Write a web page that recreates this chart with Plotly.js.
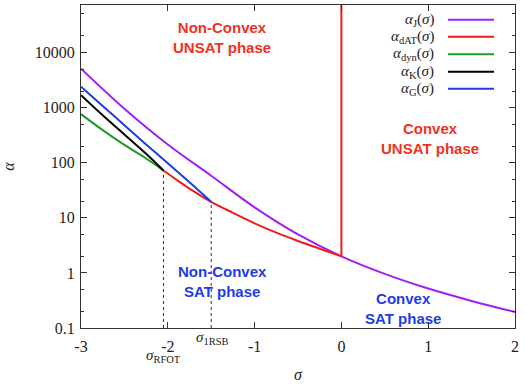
<!DOCTYPE html>
<html><head><meta charset="utf-8">
<script src="https://cdn.plot.ly/plotly-3.0.1.min.js"></script>
<style>html,body{margin:0;padding:0;background:#fff}#plot{width:526px;height:384px}</style>
</head><body><div id="plot"></div><script>
// alpha_J(sigma)
const sigmaJ = [-3, -2.5, -2, -1.5, -1, -0.5, 0, 0.5, 1, 1.5, 2];
const alphaJ = [5100, 955, 214, 58, 15.5, 5.0, 2.0, 0.96, 0.52, 0.31, 0.195];
// alpha_dAT(sigma)
const sigmaDAT = [-2.05, -1.9, -1.75, -1.5, -1.25, -1, -0.75, -0.5, -0.25, 0];
const alphaDAT = [72, 49, 33.9, 19.5, 12.3, 7.94, 5.37, 3.80, 2.75, 2.0];
// vertical dAT boundary at sigma = 0
const sigmaWall = [0, 0];
const alphaWall = [2.0, 100000];
// alpha_dyn(sigma)
const sigmaDyn = [-3, -2.75, -2.5, -2.25, -2.05];
const alphaDyn = [760, 390, 210, 119, 72];
// alpha_K(sigma)
const sigmaK = [-3, -2.75, -2.5, -2.25, -2.05];
const alphaK = [1680, 725, 324, 145, 72];
// alpha_G(sigma)
const sigmaG = [-3, -2.75, -2.5, -2.25, -2, -1.75, -1.5];
const alphaG = [2400, 1070, 480, 215, 98, 44, 19.6];
// special sigmas
const sigmaRFOT = -2.05, alphaRFOT = 72;
const sigma1RSB = -1.5, alpha1RSB = 19.6;
// axis ticks
const xTicks = [-3, -2, -1, 0, 1, 2];
const xTickText = ['-3', '-2', '-1', '0', '1', '2'];
const yTicks = [0.1, 1, 10, 100, 1000, 10000];
const yTickText = ['0.1', '1', '10', '100', '1000', '10000'];
const yMinor = [0.2, 0.5, 2, 5, 20, 50, 200, 500, 2000, 5000, 20000, 50000];

const cJ = '#a020f0', cDAT = '#ee1c1c', cDyn = '#1f9a25', cK = '#000000', cG = '#1e3ce6';
const serif = 'Liberation Serif, DejaVu Serif, serif';
const sans = 'Liberation Sans, Arial, sans-serif';

const legendNames = ['<i>α</i><sub>J</sub>(<i>σ</i>)', '<i>α</i><sub>dAT</sub>(<i>σ</i>)',
  '<i>α</i><sub>dyn</sub>(<i>σ</i>)', '<i>α</i><sub>K</sub>(<i>σ</i>)', '<i>α</i><sub>G</sub>(<i>σ</i>)'];
const legendColors = [cJ, cDAT, cDyn, cK, cG];

const lw = 2;
const traces = [
  {x: [sigmaRFOT, sigmaRFOT], y: [0.1, alphaRFOT], mode: 'lines', line: {color: '#333', width: 1, dash: 'dot'}},
  {x: [sigma1RSB, sigma1RSB], y: [0.1, alpha1RSB], mode: 'lines', line: {color: '#333', width: 1, dash: 'dot'}},
  {x: sigmaJ, y: alphaJ, mode: 'lines', line: {color: cJ, width: lw, shape: 'spline'}},
  {x: sigmaDAT, y: alphaDAT, mode: 'lines', line: {color: cDAT, width: lw, shape: 'spline'}},
  {x: sigmaWall, y: alphaWall, mode: 'lines', line: {color: cDAT, width: lw}},
  {x: sigmaDyn, y: alphaDyn, mode: 'lines', line: {color: cDyn, width: lw, shape: 'spline'}},
  {x: sigmaK, y: alphaK, mode: 'lines', line: {color: cK, width: lw, shape: 'spline'}},
  {x: sigmaG, y: alphaG, mode: 'lines', line: {color: cG, width: lw, shape: 'spline'}}
];

const plotH = 323.2, plotB = 328.5, plotL = 81, plotW = 434;
const py = p => (plotB - p) / plotH;
const px = p => (p - plotL) / plotW;

const annotations = [];
const shapes = [];
const rowsY = [20, 37, 54.5, 72, 89];
legendNames.forEach((n, i) => {
  annotations.push({xref: 'paper', yref: 'paper', x: px(436), y: py(rowsY[i]), xanchor: 'right', yanchor: 'middle',
    text: n, showarrow: false, font: {family: serif, size: 15, color: '#222'}});
  shapes.push({type: 'line', xref: 'paper', yref: 'paper', x0: px(448), x1: px(494), y0: py(rowsY[i]), y1: py(rowsY[i]),
    line: {color: legendColors[i], width: 2}});
});
const phase = (x, y, t, c) => annotations.push({x: x, y: Math.log10(y), xref: 'x', yref: 'y', text: t, showarrow: false,
  font: {family: sans, size: 15, color: c, weight: 'bold'}, xanchor: 'center', yanchor: 'middle'});
phase(-1.375, 19000, '<b>Non-Convex</b><br><b>UNSAT phase</b>', '#f0321e');
phase(1.02, 270, '<b>Convex</b><br><b>UNSAT phase</b>', '#f0321e');
phase(-1.375, 0.705, '<b>Non-Convex</b><br><b>SAT phase</b>', '#1e3ce6');
phase(0.71, 0.224, '<b>Convex</b><br><b>SAT phase</b>', '#1e3ce6');
annotations.push({x: sigmaRFOT, xref: 'x', yref: 'paper', y: py(357), text: '<i>σ</i><sub>RFOT</sub>', showarrow: false,
  font: {family: serif, size: 15, color: '#222'}, yanchor: 'middle'});
annotations.push({x: sigma1RSB + 0.02, xref: 'x', yref: 'paper', y: py(339), text: '<i>σ</i><sub>1RSB</sub>', showarrow: false,
  font: {family: serif, size: 15, color: '#222'}, yanchor: 'middle'});

const layout = {
  width: 526, height: 384, showlegend: false,
  paper_bgcolor: '#fff', plot_bgcolor: '#fff',
  margin: {l: 81, r: 11, t: 5, b: 56},
  xaxis: {range: [-3, 2], tickvals: xTicks, ticktext: xTickText, ticks: 'inside', ticklen: 6, tickcolor: '#333', mirror: 'ticks',
    showline: true, linecolor: '#333', linewidth: 1, showgrid: false, zeroline: false, ticklabelstandoff: 4,
    tickfont: {family: serif, size: 16, color: '#222'},
    title: {text: '<i>σ</i>', font: {family: serif, size: 16, color: '#222'}, standoff: 14}},
  yaxis: {type: 'log', range: [-1, 4.862], tickvals: yTicks, ticktext: yTickText, ticks: 'inside', ticklen: 6,
    tickcolor: '#333', mirror: 'ticks', showline: true, linecolor: '#333', linewidth: 1, showgrid: false, zeroline: false,
    minor: {tickvals: yMinor, ticks: 'inside', ticklen: 3, tickcolor: '#333'}, ticklabelstandoff: 2,
    tickfont: {family: serif, size: 16, color: '#222'},
    title: {text: '<i>α</i>', font: {family: serif, size: 16, color: '#222'}, standoff: 20}},
  annotations: annotations, shapes: shapes
};
Plotly.newPlot('plot', traces, layout, {displayModeBar: false, staticPlot: true});
</script></body></html>
